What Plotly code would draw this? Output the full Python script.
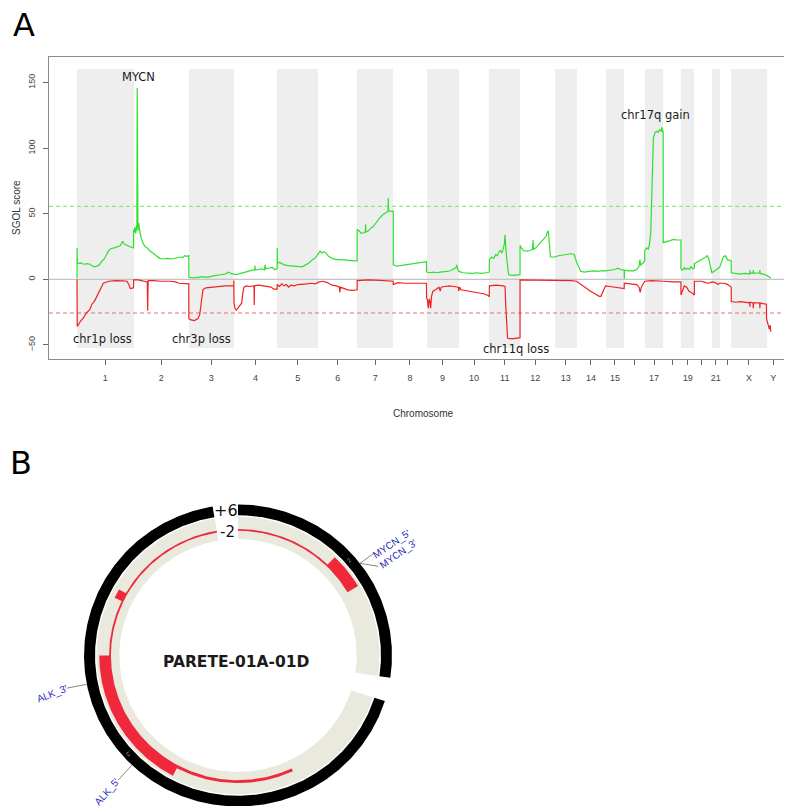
import numpy as np
import plotly.graph_objects as go

# ---------------- Panel A data ----------------
chrom_names = ['1', '2', '3', '4', '5', '6', '7', '8', '9', '10', '11', '12', '13', '14', '15',
               '16', '17', '18', '19', '20', '21', '22', 'X', 'Y']
chrom_len = [249.25, 243.20, 198.02, 191.15, 180.92, 171.12, 159.14, 146.36, 141.21, 135.53,
             135.01, 133.85, 115.17, 107.35, 102.53, 90.35, 81.20, 78.08, 59.13, 63.03,
             48.13, 51.30, 155.27, 59.37]
chrom_data_start = [0, 0, 0, 0, 0, 0, 0, 0, 0, 0, 0, 0, 19, 19, 20, 0, 0, 0, 0, 0, 14, 16, 0, 0]
tick_text = ['1', '2', '3', '4', '5', '6', '7', '8', '9', '10', '11', '12', '13', '14', '15',
             '', '17', '', '19', '', '21', '', 'X', 'Y']

gain_pos = [
    [0, 0.5, 1.5, 15, 30, 45, 57, 65, 75, 90, 100, 110, 120, 140, 150, 165, 180, 190, 197, 201, 206, 215, 230, 249],
    [0, 3, 6, 9, 12, 14.5, 15.9, 16.5, 19, 22, 25, 28, 33, 40, 50, 60, 70, 85, 100, 115, 130, 150, 170, 190, 205, 215, 225, 235, 243],
    [0, 20, 40, 60, 80, 100, 120, 140, 160, 175, 185, 198],
    [0, 10, 30, 50, 70, 85, 92, 93, 94, 110, 125, 135, 138, 140, 155, 170, 180, 191],
    [0, 1, 10, 30, 50, 70, 90, 110, 125, 140, 155, 165, 175, 181],
    [0, 8, 15, 25, 35, 45, 60, 80, 100, 120, 140, 160, 171],
    [0, 8, 18, 28, 36, 37, 38, 50, 60, 70, 85, 100, 115, 130, 136, 137, 138, 150, 159],
    [0, 15, 30, 50, 70, 90, 110, 130, 146],
    [0, 15, 30, 45, 60, 75, 90, 105, 118, 130, 133, 136, 141],
    [0, 20, 40, 60, 80, 100, 120, 135],
    [0, 10, 20, 28, 35, 42, 48, 55, 62, 66, 68.5, 70, 74, 80, 85, 100, 120, 135],
    [0, 5, 15, 30, 45, 55, 57, 59, 70, 85, 100, 115, 122, 125, 134],
    [19, 35, 55, 75, 90, 105, 115],
    [19, 35, 55, 75, 95, 107],
    [20, 40, 60, 75, 85, 102],
    [0, 1, 20, 40, 55, 65, 69, 72, 80, 90],
    [0, 8, 15, 20, 26, 30, 34, 38, 45, 52, 58, 65, 72, 75, 78, 81],
    [0, 15, 30, 45, 60, 78],
    [0, 8, 15, 22, 30, 38, 45, 52, 59],
    [0, 10, 25, 40, 50, 56, 63],
    [14, 25, 35, 45, 48],
    [16, 25, 35, 45, 51],
    [0, 20, 40, 60, 81, 82, 83, 96, 97, 98, 125, 126, 127, 140, 155],
    [0, 10, 19],
]
gain_val = [
    [1, 24, 12, 12.5, 11.5, 12, 11.5, 10.5, 9.5, 10, 11.5, 14, 15.5, 22, 23.5, 24, 25, 25.5, 28, 29, 27, 26, 25, 24],
    [38, 36, 40, 35, 38, 42, 146, 40, 37, 43, 37, 36, 32, 28, 25, 24, 22, 20, 18, 16, 15.5, 16, 15.5, 16.5, 17, 16.5, 18, 17.5, 18],
    [1.5, 1, 1.5, 2, 1.5, 2.5, 3, 3.5, 4, 5.5, 4.5, 4],
    [4, 3.5, 4.5, 5.5, 6.5, 7, 7.5, 10.5, 7, 7.5, 8, 7, 11, 8, 8.5, 9, 7.5, 8],
    [24, 12, 13, 11, 10.5, 10, 9.5, 9.5, 11, 12.5, 15, 16, 18, 20],
    [20, 21.5, 20, 21, 20, 17.5, 16, 15, 15, 14.5, 14, 14, 14],
    [38, 37, 35, 35.5, 36, 42, 36, 37, 39, 40, 44, 47, 49.5, 51, 52, 62, 52, 52, 52],
    [11, 10, 10.5, 11, 11.5, 12, 12.5, 13, 13.5],
    [5.5, 5, 5.5, 5, 5.5, 5.5, 6, 6.5, 7.5, 9, 11, 8, 6.5],
    [6, 5, 4.5, 4.5, 5, 4.5, 5, 5.5],
    [15, 17, 16, 19, 18, 21, 22, 20, 24, 27, 34, 26, 20, 10, 3.5, 3, 3, 3.5],
    [26, 24, 22, 21.5, 22, 23, 30, 23, 24, 27, 30, 33, 37, 36, 17],
    [17, 18, 18.5, 19, 19.5, 19, 13],
    [6, 5.5, 6, 6.5, 6, 6.5],
    [6.5, 7, 7.5, 8.5, 7.5, 7],
    [0.5, 7, 6.5, 6.5, 7.5, 10, 15, 11, 12, 14],
    [22, 24, 23, 26, 35, 60, 90, 108, 112, 113, 112, 114, 113, 116, 113, 113],
    [28, 28.5, 29.5, 30.5, 30, 30],
    [8, 7, 9, 7.5, 8.5, 7.5, 10, 8, 8.5],
    [12, 13, 14, 15.5, 17, 18, 16],
    [5, 6, 7.5, 9, 9],
    [17, 18, 15, 14.5, 14],
    [5, 4.5, 4, 4.5, 4, 7, 4.5, 5, 7, 4.5, 5, 7, 4.5, 4, 3.5],
    [3, 2, 1],
]

loss_pos = [
    [0, 1, 5, 15, 28, 40, 57, 65, 76, 88, 101, 110, 116, 140, 170, 200, 220, 228, 235, 249],
    [0, 20, 40, 60, 62, 64, 90, 120, 160, 185, 200, 220, 243],
    [0, 10, 25, 40, 48, 55, 62, 75, 100, 130, 160, 198],
    [0, 1, 5, 10, 18, 28, 35, 40, 45, 55, 70, 89, 90, 91, 110, 130, 150, 165, 175, 191],
    [0, 10, 20, 30, 40, 50, 60, 75, 90, 110, 130, 150, 165, 181],
    [0, 20, 40, 60, 80, 93, 95, 97, 110, 130, 150, 171],
    [0, 50, 100, 140, 159],
    [0, 20, 50, 80, 110, 146],
    [0, 4, 8, 11, 15, 18, 22, 28, 40, 55, 60, 65, 80, 100, 120, 141],
    [0, 5, 10, 30, 50, 70, 90, 110, 125, 135],
    [0, 30, 60, 69, 72, 76, 80, 100, 120, 135],
    [0, 40, 80, 134],
    [19, 50, 90, 115],
    [19, 40, 60, 80, 100, 107],
    [20, 40, 60, 80, 102],
    [0, 20, 40, 55, 65, 70, 75, 90],
    [0, 30, 60, 81],
    [0, 40, 78],
    [0, 8, 15, 25, 35, 45, 52, 59],
    [0, 30, 50, 63],
    [14, 30, 40, 48],
    [16, 30, 45, 51],
    [0, 20, 40, 60, 81, 82, 83, 96, 97, 98, 125, 126, 127, 140, 155],
    [0, 8, 12, 16, 19],
]
loss_val = [
    [0, -36, -35, -32, -29.5, -26, -23, -19, -17, -13, -8, -5, -3, -1.5, -1, -1.2, -1.5, -4, -7, -6.5],
    [-0.5, -0.5, -1, -2, -24, -1, -1, -1.5, -1.5, -2, -3, -3, -3.5],
    [-30, -31, -31.5, -30, -27, -15, -8, -6.5, -6, -5.5, -5, -5],
    [-1, -18, -22, -23.5, -22, -20, -18, -10, -6, -5, -5.5, -5, -19.5, -5, -4.5, -5, -5.5, -6, -7.5, -7.5],
    [-4, -5.5, -3.5, -5, -4, -6, -4.5, -5, -4, -4, -3.5, -3, -3.5, -2.5],
    [-2, -1.5, -2.5, -4.5, -5, -6, -10, -6, -7, -8, -8.5, -8],
    [-1, -0.5, -0.8, -1.2, -1.5],
    [-4, -2.5, -3, -3, -3.5, -3],
    [-14, -16, -22, -15, -17, -22, -13, -9, -8, -6, -9, -6, -5.5, -5, -5.5, -6],
    [-9, -6, -8, -8.5, -9, -10, -10.5, -11, -12, -13],
    [-5, -4.5, -5, -5.5, -20, -40, -45, -45.5, -45, -44.5],
    [-0.5, -0.5, -0.8, -1],
    [-0.5, -0.5, -1, -1.5],
    [-4, -7, -9, -11, -13, -13],
    [-5, -5.5, -6, -7, -7],
    [-3, -3.5, -4, -4, -6, -10, -6, -2],
    [-1.5, -1, -1, -1.5],
    [-1.5, -2, -2],
    [-12, -8, -5, -6, -9, -10, -11, -12],
    [-1.5, -1.5, -2.5, -3],
    [-2, -2.5, -4, -3],
    [-3, -3.5, -5, -6],
    [-17, -17.5, -17, -17.5, -18, -21, -17.5, -18, -22, -18, -18, -22, -18, -18.5, -19],
    [-30, -35, -38, -35, -40],
]

gain_threshold = 55.7
loss_threshold = -25.7

# ---------------- Panel B data ----------------
# angular positions are clockwise degrees from the top of the circle
ring_start = [0.0, 107.5]
ring_end = [98.5, 350.5]
track_start = [0.0, 44.0, 155.0, 208.0, 270.0, 295.5, 299.5]
track_end = [44.0, 59.5, 208.0, 270.0, 295.5, 299.5, 350.5]
track_level = [0.0, 4.2, 1.0, 4.0, 0.0, 3.3, 0.0]
gene_names = ["MYCN_5'", "MYCN_3'", "ALK_3'", "ALK_5'"]
gene_angle = [52.4, 52.4, 259.0, 223.5]
gene_label_angle = [53.4, 57.2, 258.3, 223.3]
gene_line_end_angle = [52.5, 57.0, 259.0, 223.3]
sample_name = "PARETE-01A-01D"
scale_labels = ["+6", "-2"]

# ---------------- geometry helpers ----------------
# the page body adds an 8px offset; figure pixel = screen pixel - 8
OFF = 8
W, H = 792 - OFF, 806 - OFF


def px(sx):
    return (sx - OFF) / W


def py(sy):
    return 1 - (sy - OFF) / H


offsets = np.concatenate([[0], np.cumsum(chrom_len)[:-1]])
band_lo = offsets + np.array(chrom_data_start)
band_hi = offsets + np.array(chrom_len)
centers = (band_lo + band_hi) / 2

XMIN, XMAX = -123.3, 3148.4
YMIN, YMAX = -60.8, 169.6
BAND_LOW, BAND_HIGH = -52.6, 160.5

fig = go.Figure()

odd = [i for i in range(len(chrom_names)) if i % 2 == 0 and chrom_names[i] != 'Y']
fig.add_trace(go.Bar(
    x=centers[odd], y=[BAND_HIGH - BAND_LOW] * len(odd), base=BAND_LOW,
    width=(band_hi - band_lo)[odd], marker=dict(color='#eeeeee', line=dict(width=0)),
    hoverinfo='skip', showlegend=False))

fig.add_trace(go.Scatter(x=[XMIN, XMAX], y=[0, 0], mode='lines',
                         line=dict(color='#c4c4c4', width=1.2), hoverinfo='skip', showlegend=False))
fig.add_trace(go.Scatter(x=[XMIN, XMAX], y=[gain_threshold] * 2, mode='lines',
                         line=dict(color='#6ee86e', width=1, dash='4px,3px'), hoverinfo='skip', showlegend=False))
fig.add_trace(go.Scatter(x=[XMIN, XMAX], y=[loss_threshold] * 2, mode='lines',
                         line=dict(color='#f06a6a', width=1, dash='4px,3px'), hoverinfo='skip', showlegend=False))

gx = np.concatenate([offsets[i] + np.array(p) for i, p in enumerate(gain_pos)])
gy = np.concatenate([np.array(v, dtype=float) for v in gain_val])
lx = np.concatenate([offsets[i] + np.array(p) for i, p in enumerate(loss_pos)])
ly = np.concatenate([np.array(v, dtype=float) for v in loss_val])
fig.add_trace(go.Scatter(x=gx, y=gy, mode='lines', line=dict(color='#2ee02e', width=1.2),
                         hoverinfo='skip', showlegend=False))
fig.add_trace(go.Scatter(x=lx, y=ly, mode='lines', line=dict(color='#ee2222', width=1.2),
                         hoverinfo='skip', showlegend=False))

# ---- panel B circle (drawn on x2/y2 in radial units) ----
R_BLACK = (143.0, 154.0)
R_BEIGE = (118.7, 141.5)
R_BASE = 127.1
R_LINE = 128.9
LEVEL_STEP = 2.9


def sector(th1, th2, r1, r2):
    n = max(int(abs(th2 - th1) * 2) + 2, 3)
    th = np.radians(np.linspace(th1, th2, n))
    xs = np.concatenate([r2 * np.sin(th), r1 * np.sin(th[::-1])])
    ys = np.concatenate([r2 * np.cos(th), r1 * np.cos(th[::-1])])
    return list(xs) + [xs[0], None], list(ys) + [ys[0], None]


def add_sectors(segs, color):
    X, Y = [], []
    for s in segs:
        a, b = sector(*s)
        X += a
        Y += b
    fig.add_trace(go.Scatter(x=X, y=Y, mode='lines', fill='toself', fillcolor=color,
                             line=dict(width=0, color=color), xaxis='x2', yaxis='y2',
                             hoverinfo='skip', showlegend=False))


add_sectors([(a, b, *R_BLACK) for a, b in zip(ring_start, ring_end)], '#000000')
add_sectors([(a, b, *R_BEIGE) for a, b in zip(ring_start, ring_end)], '#e9e9dd')
track_segs = []
for a, b, lv in zip(track_start, track_end, track_level):
    top = R_LINE if lv == 0 else R_LINE + (lv - 0.6) * LEVEL_STEP
    track_segs.append((a, b, R_BASE, top))
add_sectors(track_segs, '#f0283c')


def polar_xy(angle, r):
    t = np.radians(angle)
    return r * np.sin(t), r * np.cos(t)


line_start_r = [154, 154, 154, 154]
line_end_r = [171, 167, 174.5, 174.5]
label_r = [191.8, 191.2, 189.6, 190.7]
label_tilt = [-34, -35, -21, -49]
for i, name in enumerate(gene_names):
    x0, y0 = polar_xy(gene_angle[i], line_start_r[i])
    x1, y1 = polar_xy(gene_line_end_angle[i], line_end_r[i])
    fig.add_trace(go.Scatter(x=[x0, x1], y=[y0, y1], mode='lines', line=dict(color='#666666', width=0.8),
                             xaxis='x2', yaxis='y2', hoverinfo='skip', showlegend=False))
    lxp, lyp = polar_xy(gene_label_angle[i], label_r[i])
    fig.add_annotation(x=lxp, y=lyp, xref='x2', yref='y2', text=name, showarrow=False,
                       xanchor='center', yanchor='middle',
                       textangle=label_tilt[i], font=dict(family='Liberation Sans', size=10, color='#2a2ab8'))

for ang, rr in [(48.7, 148.2), (227.4, 149.5)]:
    mx, my = polar_xy(ang, rr)
    fig.add_annotation(x=mx, y=my, xref='x2', yref='y2', text='2', showarrow=False, textangle=ang - 90,
                       xanchor='center', yanchor='middle',
                       font=dict(family='Liberation Sans', size=6, color='#9a9a9a'))

for lab, rr, sz in zip(scale_labels, [148.0, 126.0], [16, 15]):
    sx, sy = polar_xy(355.2, rr)
    fig.add_annotation(x=sx, y=sy, xref='x2', yref='y2', text=lab, showarrow=False,
                       xanchor='center', yanchor='middle',
                       font=dict(family='DejaVu Sans', size=sz, color='#111111'))

fig.add_annotation(x=-1.3, y=-6.3, xref='x2', yref='y2', text='<b>' + sample_name + '</b>', showarrow=False,
                   xanchor='center', yanchor='middle',
                   font=dict(family='DejaVu Sans', size=15.5, color='#1a1a1a'))

# ---- panel A annotations ----
ann_font = dict(family='DejaVu Sans', size=11.5, color='#1a1a1a')
for txt, ax_, ay_ in [('MYCN', 268.6, 154.7), ('chr1p loss', 112.3, -45.2), ('chr3p loss', 546.0, -45.2),
                      ('chr11q loss', 1930.9, -53.2), ('chr17q gain', 2549.5, 125.3)]:
    fig.add_annotation(x=ax_, y=ay_, xref='x', yref='y', text=txt, showarrow=False,
                       xanchor='center', yanchor='middle', font=ann_font)

fig.add_annotation(x=px(423), y=py(413), xref='paper', yref='paper', text='Chromosome', showarrow=False,
                   xanchor='center', yanchor='middle',
                   font=dict(family='Liberation Sans', size=10, color='#333333'))
fig.add_annotation(x=px(16), y=py(208), xref='paper', yref='paper', text='SGOL score', showarrow=False,
                   xanchor='center', yanchor='middle',
                   textangle=-90, font=dict(family='Liberation Sans', size=10, color='#333333'))
fig.add_annotation(x=px(23.5), y=py(25.5), xref='paper', yref='paper', text='A', showarrow=False,
                   xanchor='center', yanchor='middle',
                   font=dict(family='DejaVu Sans', size=32, color='#000000'))
fig.add_annotation(x=px(21), y=py(463), xref='paper', yref='paper', text='B', showarrow=False,
                   xanchor='center', yanchor='middle',
                   font=dict(family='DejaVu Sans', size=32, color='#000000'))

# panel B axis ranges (1 unit = 1 px horizontally, 0.981 px vertically), centre in screen pixels
CX, CY, VSCALE = 238.0, 655.5, 0.981
B_TOP = 427.2
fig.update_layout(
    width=W, height=H, margin=dict(l=0, r=0, t=0, b=0),
    paper_bgcolor='white', plot_bgcolor='white', showlegend=False, bargap=0,
    xaxis=dict(domain=[px(49), 1], range=[XMIN, XMAX], tickmode='array', tickvals=list(centers),
               ticktext=tick_text, ticks='outside', ticklen=5, tickcolor='#666666', showgrid=False,
               zeroline=False, showline=True, mirror=True, linecolor='#8c8c8c', linewidth=1,
               tickfont=dict(family='Liberation Sans', size=9, color='#444444'), ticklabelstandoff=5),
    yaxis=dict(domain=[py(359), py(57)], range=[YMIN, YMAX], tickvals=[-50, 0, 50, 100, 150],
               ticks='outside', ticklen=5, tickcolor='#666666', showgrid=False, zeroline=False,
               showline=True, linecolor='#8c8c8c', linewidth=1, tickangle=-90,
               tickfont=dict(family='Liberation Sans', size=9, color='#444444'), ticklabelstandoff=4),
    xaxis2=dict(domain=[0, 1], range=[OFF - CX, 792 - CX], visible=False, anchor='y2'),
    yaxis2=dict(domain=[0, py(B_TOP)], range=[-(806 - CY) / VSCALE, (CY - B_TOP) / VSCALE],
                visible=False, anchor='x2'),
)

fig.write_html('out.html')
